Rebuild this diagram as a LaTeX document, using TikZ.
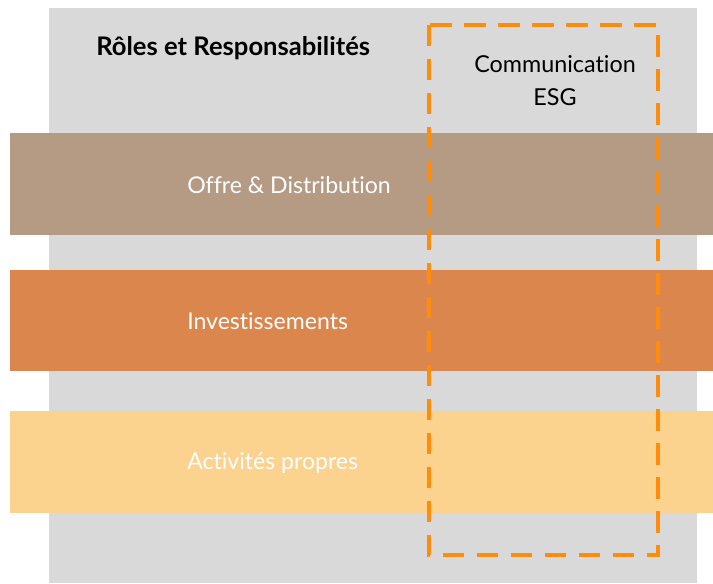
\documentclass[tikz,border=0pt]{standalone}
\usepackage{fontspec}
\setmainfont{Lato}[Ligatures={NoCommon}]
\definecolor{bggray}{HTML}{D9D9D9}
\definecolor{bandbrown}{HTML}{B59A84}
\definecolor{bandorange}{HTML}{DA864C}
\definecolor{bandyellow}{HTML}{FCD28F}
\definecolor{dashorange}{HTML}{FF8C0A}
\begin{document}
\begin{tikzpicture}[x=0.75pt,y=-0.75pt,
  band/.style={draw=none},
  bandtext/.style={anchor=base west,inner sep=0pt,text=white,font=\fontsize{17.3}{20}\selectfont},
  esgbox/.style={draw=dashorange,line width=3pt,dash pattern=on 16pt off 9.5pt},
]
\useasboundingbox (0,0) rectangle (713,583);
\fill[bggray] (49,8) rectangle (697,583);
\fill[bandbrown] (10,133) rectangle (713,235);
\fill[bandorange] (10,270) rectangle (713,371);
\fill[bandyellow] (10,411) rectangle (713,513);
\node[anchor=base west,inner sep=0pt,font=\bfseries\fontsize{19.2}{22}\selectfont] (title) at (96,55) {Rôles et Responsabilités};
\node[bandtext] (offre) at (187,193) {Offre \& Distribution};
\node[bandtext] (invest) at (187,329) {Investissements};
\node[bandtext] (activ) at (187,469) {Activités propres};
\node[align=center,inner sep=0pt,font=\fontsize{17.5}{24.75}\selectfont] (esg) at (555,81) {Communication\\ESG};
\draw[esgbox] (428.5,25) rectangle (658,555);
\end{tikzpicture}
\end{document}
